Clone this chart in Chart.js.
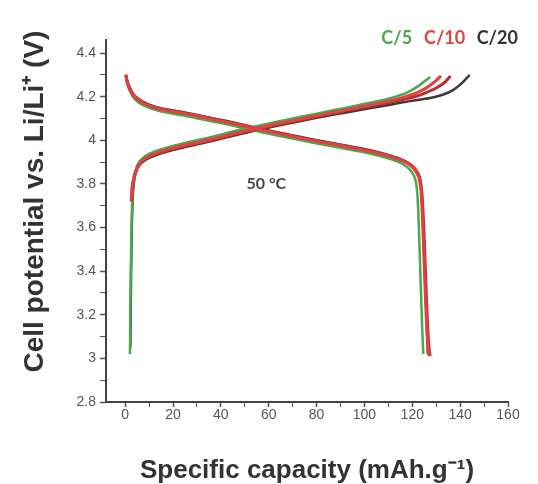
<!DOCTYPE html>
<html><head><meta charset="utf-8">
<script src="https://cdn.jsdelivr.net/npm/chart.js@4"></script>
<style>html,body{margin:0;padding:0;background:#fff}</style>
</head><body>
<canvas id="c" width="538" height="484"></canvas>
<script>
// ---- Data ----
const rateLabels = ['C/5', 'C/10', 'C/20'];
const annotationText = '50 °C';

// C/5 (green)
const c5ChargeCap = [2.0, 2.2, 2.5, 2.9, 3.4, 4.2, 5.5, 8, 12, 17, 23, 30, 37, 45, 53, 61, 70, 79, 88, 97, 106, 113, 118, 122, 125, 127.5];
const c5ChargeV   = [3.02, 3.25, 3.50, 3.70, 3.80, 3.855, 3.895, 3.925, 3.948, 3.965, 3.982, 4.0, 4.018, 4.04, 4.06, 4.08, 4.10, 4.12, 4.14, 4.16, 4.18, 4.20, 4.22, 4.245, 4.27, 4.29];
const c5DischCap  = [0.3, 0.8, 1.8, 3.2, 5.5, 9, 14, 20, 27, 35, 43, 52, 60, 69, 78, 87, 96, 104, 110, 114.5, 117.5, 119.8, 121.3, 122.2, 122.9, 123.5, 124.1, 124.6];
const c5DischV    = [4.29, 4.26, 4.23, 4.2, 4.175, 4.153, 4.135, 4.122, 4.108, 4.09, 4.072, 4.05, 4.03, 4.01, 3.99, 3.972, 3.953, 3.935, 3.918, 3.9, 3.88, 3.855, 3.82, 3.74, 3.55, 3.35, 3.15, 3.02];

// C/10 (red, two cycles)
const c10aChargeCap = [2.5, 2.9, 3.4, 4.2, 5.5, 8, 12, 17, 23, 30, 37, 45, 53, 61, 70, 79, 88, 97, 106, 114, 120, 125, 129, 132];
const c10aChargeV   = [3.72, 3.78, 3.815, 3.85, 3.885, 3.915, 3.938, 3.956, 3.973, 3.99, 4.008, 4.03, 4.05, 4.07, 4.09, 4.11, 4.13, 4.15, 4.17, 4.19, 4.21, 4.235, 4.265, 4.295];
const c10aDischCap  = [0.3, 0.8, 1.8, 3.2, 5.5, 9, 14, 20, 27, 35, 43, 52, 60, 69, 78, 87, 96, 104, 110, 115, 118.5, 121, 122.7, 123.7, 124.4, 125.1, 125.8, 126.5, 127];
const c10aDischV    = [4.30, 4.27, 4.24, 4.21, 4.185, 4.163, 4.145, 4.132, 4.118, 4.10, 4.082, 4.06, 4.04, 4.02, 4.0, 3.982, 3.963, 3.945, 3.928, 3.91, 3.89, 3.865, 3.83, 3.76, 3.6, 3.4, 3.2, 3.06, 3.01];
const c10bChargeCap = [2.6, 3.0, 3.6, 4.5, 6, 8.5, 12.5, 17.5, 23.5, 30.5, 37.5, 45.5, 53.5, 61.5, 70.5, 79.5, 88.5, 97.5, 106.5, 115, 121, 126, 130, 133.5, 136];
const c10bChargeV   = [3.72, 3.79, 3.825, 3.86, 3.89, 3.915, 3.935, 3.953, 3.97, 3.987, 4.005, 4.027, 4.047, 4.067, 4.087, 4.107, 4.127, 4.147, 4.165, 4.185, 4.2, 4.22, 4.24, 4.265, 4.295];
const c10bDischCap  = [0.3, 0.8, 1.8, 3.2, 5.5, 9, 14, 20, 27, 35, 43, 52, 60, 69, 78, 87, 96, 104, 110, 115, 118.7, 121.3, 123, 124, 124.8, 125.5, 126.2, 126.9, 127.4];
const c10bDischV    = [4.30, 4.272, 4.242, 4.212, 4.187, 4.165, 4.147, 4.134, 4.12, 4.102, 4.084, 4.062, 4.042, 4.022, 4.002, 3.984, 3.965, 3.947, 3.93, 3.912, 3.892, 3.867, 3.832, 3.76, 3.6, 3.4, 3.2, 3.06, 3.01];

// C/20 (black)
const c20ChargeCap = [2.2, 2.4, 2.7, 3.1, 3.6, 4.4, 5.8, 8.5, 12.5, 17.5, 23.5, 30.5, 37.5, 45.5, 53.5, 61.5, 70.5, 79.5, 88.5, 97.5, 106.5, 115, 122, 128, 133, 137, 140.5, 144];
const c20ChargeV   = [3.05, 3.3, 3.55, 3.72, 3.80, 3.85, 3.885, 3.91, 3.93, 3.948, 3.965, 3.983, 4.0, 4.022, 4.042, 4.062, 4.082, 4.102, 4.12, 4.138, 4.155, 4.172, 4.185, 4.195, 4.21, 4.23, 4.26, 4.30];
const c20DischCap  = [0.3, 0.8, 1.8, 3.2, 5.5, 9, 14, 20, 27, 35, 43, 52, 60, 69, 78, 87, 96, 104, 110, 115, 118.5, 121, 122.8, 123.8, 124.5, 125.2, 125.9, 126.5];
const c20DischV    = [4.30, 4.275, 4.245, 4.215, 4.19, 4.168, 4.15, 4.137, 4.123, 4.105, 4.087, 4.065, 4.045, 4.025, 4.005, 3.987, 3.968, 3.95, 3.933, 3.915, 3.895, 3.87, 3.835, 3.77, 3.6, 3.4, 3.2, 3.02];

// Axis ticks
const xMajorTicks = [0, 20, 40, 60, 80, 100, 120, 140, 160];
const xMinorTicks = [10, 30, 50, 70, 90, 110, 130, 150];
const yMajorTicks = [2.8, 3.0, 3.2, 3.4, 3.6, 3.8, 4.0, 4.2, 4.4];
const yMinorTicks = [2.9, 3.1, 3.3, 3.5, 3.7, 3.9, 4.1, 4.3];

// ---- Build chart ----
const pts = (xs, ys) => xs.map((x, i) => ({x: x, y: ys[i]}));
const GREEN = '#4aa84e', RED = '#e2413f', DARKRED = '#b8302f', BLACK = '#3a3a3a';
function ds(label, xs, ys, color, w) {
  return {label, data: pts(xs, ys), showLine: true, borderColor: color, backgroundColor: color,
          borderWidth: w, pointRadius: 0, tension: 0.3, fill: false};
}
const datasets = [
  ds('C/10 charge', c10aChargeCap, c10aChargeV, RED, 3),
  ds('C/10 discharge', c10aDischCap, c10aDischV, RED, 3),
  ds('C/10 charge 2', c10bChargeCap, c10bChargeV, DARKRED, 3),
  ds('C/10 discharge 2', c10bDischCap, c10bDischV, DARKRED, 3),
  ds('C/5 charge', c5ChargeCap, c5ChargeV, GREEN, 2.5),
  ds('C/5 discharge', c5DischCap, c5DischV, GREEN, 2.5),
  ds('C/20 charge', c20ChargeCap, c20ChargeV, BLACK, 2.5),
  ds('C/20 discharge', c20DischCap, c20DischV, BLACK, 2.5)
];

const labelColors = [GREEN, RED, '#333333'];
const textPlugin = {
  id: 'texts',
  afterDraw(chart) {
    const c = chart.ctx, xs = chart.scales.x, ys = chart.scales.y;
    c.save();
    c.textAlign = 'center'; c.textBaseline = 'middle';
    c.font = 'bold 18px Lato';
    const lx = [113.5, 133.5, 155.5];
    rateLabels.forEach((t, i) => {
      c.fillStyle = labelColors[i];
      c.fillText(t, xs.getPixelForValue(lx[i]), chart.chartArea.top - 2);
    });
    c.font = 'bold 16px Lato';
    c.fillStyle = '#444';
    c.fillText(annotationText, xs.getPixelForValue(59), ys.getPixelForValue(3.80));
    c.restore();
  }
};

const tickFont = {family: 'Liberation Sans', size: 14};
const xTitleFont = {family: 'Liberation Sans', size: 26, weight: 'bold', lineHeight: 1.0};
const yTitleFont = {family: 'Liberation Sans', size: 28, weight: 'bold', lineHeight: 1.0};

new Chart(document.getElementById('c'), {
  type: 'scatter',
  data: {datasets},
  options: {
    responsive: false, animation: false,
    layout: {padding: {left: 21, right: 30, top: 40, bottom: 0}},
    plugins: {legend: {display: false}, tooltip: {enabled: false}},
    scales: {
      x: {
        type: 'linear', min: -8, max: 160,
        afterBuildTicks: s => { s.ticks = xMajorTicks.concat(xMinorTicks).sort((a, b) => a - b).map(v => ({value: v})); },
        ticks: {callback: v => xMajorTicks.includes(v) ? String(v) : '', font: tickFont, color: '#555', padding: 0, maxRotation: 0, autoSkip: false},
        grid: {display: true, drawOnChartArea: false, drawTicks: true, tickLength: 5, tickColor: '#555',
               tickWidth: c => (c.tick && xMajorTicks.includes(c.tick.value)) ? 1.5 : 1},
        border: {display: true, color: '#444', width: 2},
        title: {display: true, text: 'Specific capacity (mAh.g⁻¹)', font: xTitleFont, color: '#333', padding: {top: 0, bottom: 0}},
        afterFit: s => { s.height = 82; }
      },
      y: {
        type: 'linear', min: 2.8, max: 4.46,
        afterBuildTicks: s => { s.ticks = yMajorTicks.concat(yMinorTicks).sort((a, b) => a - b).map(v => ({value: v})); },
        ticks: {callback: v => yMajorTicks.includes(v) ? String(Math.round(v * 10) / 10) : '', font: tickFont, color: '#555', padding: 4, autoSkip: false},
        grid: {display: true, drawOnChartArea: false, drawTicks: true, tickLength: 6, tickColor: '#555',
               tickWidth: c => (c.tick && yMajorTicks.includes(c.tick.value)) ? 1.5 : 1},
        border: {display: true, color: '#444', width: 2},
        title: {display: true, text: '     Cell potential vs. Li/Li⁺ (V)', font: yTitleFont, color: '#333', padding: {top: 0, bottom: 0}},
        afterFit: s => { s.width = 85; }
      }
    }
  },
  plugins: [textPlugin]
});
</script>
</body></html>
